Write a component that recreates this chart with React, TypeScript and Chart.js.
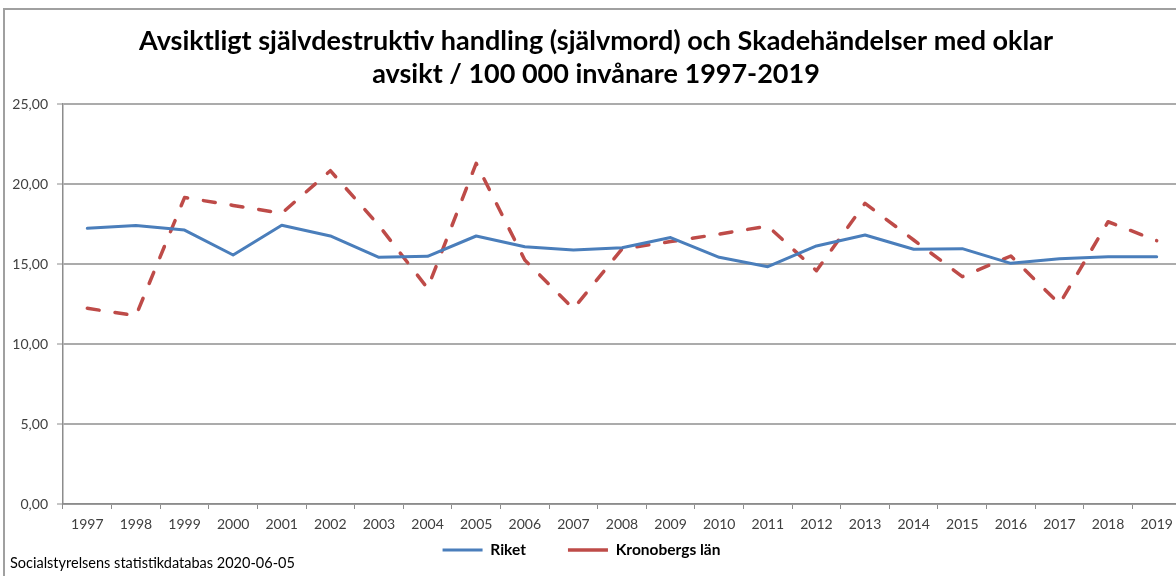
import React, { useEffect, useRef } from "react";
import { Chart, registerables } from "chart.js";

Chart.register(...registerables);

const titleLines = [
  "Avsiktligt självdestruktiv handling (självmord) och Skadehändelser med oklar",
  "avsikt / 100 000 invånare 1997-2019",
];
const sourceText = "Socialstyrelsens statistikdatabas 2020-06-05";

const years = [
  "1997", "1998", "1999", "2000", "2001", "2002", "2003", "2004", "2005", "2006", "2007", "2008",
  "2009", "2010", "2011", "2012", "2013", "2014", "2015", "2016", "2017", "2018", "2019",
];

const riketLabel = "Riket";
const riket = [
  17.23, 17.4, 17.12, 15.56, 17.42, 16.75, 15.42, 15.48, 16.75, 16.08, 15.88, 16.02,
  16.65, 15.42, 14.83, 16.13, 16.81, 15.92, 15.96, 15.04, 15.33, 15.46, 15.46,
];

const kronobergLabel = "Kronobergs län";
const kronoberg = [
  12.23, 11.77, 19.15, 18.66, 18.17, 20.83, 17.4, 13.48, 21.29, 15.25, 12.2, 15.94,
  16.4, 16.87, 17.37, 14.58, 18.79, 16.5, 14.21, 15.5, 12.5, 17.64, 16.46,
];

const yMin = 0;
const yMax = 25;
const yStep = 5;

const FONT = "Lato";
const LEGEND_PAD = 42;

const legendPlacer = {
  id: "legendPlacer",
  afterLayout(chart: any) {
    const lg = chart.legend;
    if (!lg) return;
    lg.top = 542.25 - LEGEND_PAD;
    lg.height = LEGEND_PAD + 26;
    lg.bottom = lg.top + lg.height;
    lg.left -= 14.5;
    lg.right -= 14.5;
  },
};

export default function App() {
  const canvasRef = useRef<HTMLCanvasElement | null>(null);

  useEffect(() => {
    document.body.style.margin = "0";
    const canvas = canvasRef.current;
    if (!canvas) return;
    const chart = new Chart(canvas, {
      type: "line",
      data: {
        labels: years,
        datasets: [
          {
            label: riketLabel,
            data: riket,
            borderColor: "#4a7ebb",
            backgroundColor: "#4a7ebb",
            borderWidth: 3,
            pointRadius: 0,
            tension: 0,
            borderJoinStyle: "round",
            borderCapStyle: "round",
            fill: false,
          },
          {
            label: kronobergLabel,
            data: kronoberg,
            borderColor: "#be4b48",
            backgroundColor: "#be4b48",
            borderWidth: 3.5,
            borderDash: [12, 16],
            borderCapStyle: "round",
            borderJoinStyle: "round",
            pointRadius: 0,
            tension: 0,
            fill: false,
          },
        ],
      },
      plugins: [legendPlacer],
      options: {
        responsive: false,
        animation: false,
        devicePixelRatio: 1,
        layout: { padding: { left: 11, right: 0, top: 0, bottom: 9 } },
        plugins: {
          title: {
            display: true,
            text: titleLines,
            color: "#000",
            font: { family: FONT, size: 27, weight: "bold", lineHeight: 1.222 },
            padding: { top: 24.5, bottom: 13.5 },
          },
          legend: {
            display: true,
            position: "bottom",
            maxHeight: 30,
            labels: {
              usePointStyle: true,
              pointStyle: "line",
              pointStyleWidth: 40,
              padding: LEGEND_PAD,
              color: "#000",
              font: { family: FONT, size: 15.5, weight: "bold" },
            },
          },
          tooltip: { enabled: false },
        },
        scales: {
          x: {
            type: "category",
            offset: true,
            afterFit: (scale: any) => {
              scale.height = 33;
            },
            grid: {
              display: true,
              drawOnChartArea: false,
              drawTicks: true,
              tickLength: 5,
              offset: true,
              color: "#8c8c8c",
              lineWidth: 1,
            },
            border: { display: true, color: "#8c8c8c", width: 1.5 },
            ticks: {
              color: "#404040",
              font: { family: FONT, size: 14 },
              padding: 7,
              maxRotation: 0,
              autoSkip: false,
            },
          },
          y: {
            min: yMin,
            max: yMax,
            afterFit: (scale: any) => {
              scale.width = 52;
            },
            grid: {
              color: "#ababab",
              lineWidth: 2,
              tickLength: 6,
              tickColor: "#8c8c8c",
              tickWidth: 1,
            },
            border: { display: true, color: "#8c8c8c", width: 1.5 },
            ticks: {
              stepSize: yStep,
              color: "#404040",
              font: { family: FONT, size: 14 },
              padding: 9,
              callback: (v: any) => Number(v).toFixed(2).replace(".", ","),
            },
          },
        },
      },
    });
    return () => chart.destroy();
  }, []);

  return (
    <div
      style={{
        position: "fixed",
        left: 0,
        top: 0,
        width: 1176,
        height: 576,
        overflow: "hidden",
        background: "#fff",
      }}
    >
      <canvas ref={canvasRef} width={1181} height={576} style={{ position: "absolute", left: 0, top: 0 }} />
      <div
        style={{
          position: "absolute",
          left: 3,
          top: 8,
          width: 1300,
          height: 700,
          borderLeft: "2px solid #a0a0a0",
          borderTop: "2px solid #a0a0a0",
          pointerEvents: "none",
        }}
      />
      <div
        style={{
          position: "absolute",
          left: 10,
          top: 554,
          fontFamily: FONT,
          fontSize: 14.5,
          lineHeight: "18px",
          color: "#000",
          whiteSpace: "nowrap",
        }}
      >
        {sourceText}
      </div>
    </div>
  );
}
